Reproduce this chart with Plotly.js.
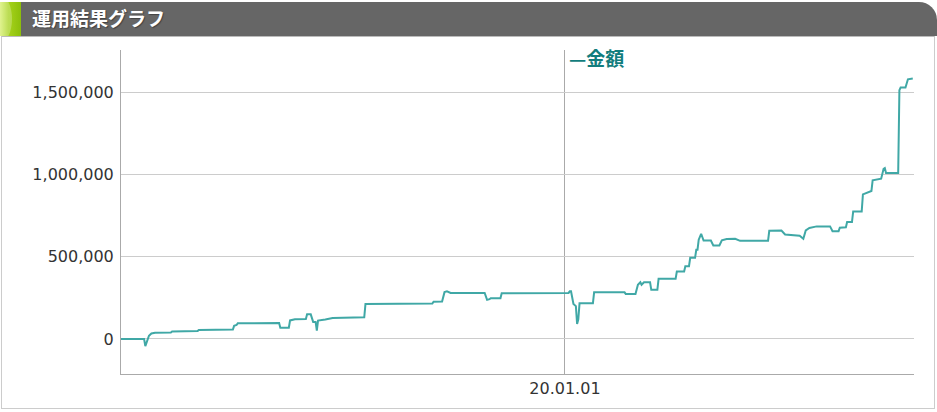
<!DOCTYPE html>
<html>
<head>
<meta charset="utf-8">
<script src="https://cdn.plot.ly/plotly-3.0.1.min.js"></script>
<style>
  html, body { margin: 0; padding: 0; background: #ffffff; width: 937px; height: 412px; overflow: hidden; }
  #header { position: absolute; left: 0; top: 2px; width: 937px; height: 34px; background: #666666; border-top-right-radius: 18px; overflow: hidden; }
  #accent { position: absolute; left: 0; top: 0; width: 21px; height: 34px; background: linear-gradient(90deg, #d6ef6a 0%, #a6d21c 40%, #8cbf0a 100%); }
  #accent2 { position: absolute; left: -10px; top: -6px; width: 22px; height: 46px; border-radius: 50%; background: rgba(255,255,255,0.25); }
  #title { position: absolute; left: 32px; top: 0; height: 34px; line-height: 32px; color: #ffffff; font-family: "Noto Sans CJK JP", sans-serif; font-weight: bold; font-size: 19px; text-shadow: 1px 1px 1px rgba(0,0,0,0.35); }
  #panel { position: absolute; left: 1px; top: 36px; width: 932px; height: 371px; border: 1px solid #cccccc; border-top: 1px solid #bbbbbb; }
  #chart { position: absolute; left: 0; top: 36px; width: 935px; height: 372px; }
</style>
</head>
<body>
<div id="header"><div id="accent"><div id="accent2"></div></div><div id="title">運用結果グラフ</div></div>
<div id="panel"></div>
<div id="chart"></div>
<script>
// Data
const dates = [
  "2019-01-01","2019-01-20","2019-01-21","2019-01-22","2019-01-24","2019-01-26","2019-01-29",
  "2019-02-11","2019-02-12","2019-03-05","2019-03-06","2019-04-03","2019-04-04","2019-04-06","2019-04-07",
  "2019-05-11","2019-05-12","2019-05-19","2019-05-20","2019-05-24",
  "2019-06-02","2019-06-03","2019-06-06","2019-06-08","2019-06-10","2019-06-11","2019-06-12","2019-06-18","2019-06-24",
  "2019-07-20","2019-07-21",
  "2019-09-14","2019-09-15","2019-09-22","2019-09-24","2019-09-26","2019-09-29",
  "2019-10-27","2019-10-29","2019-10-31","2019-11-01","2019-11-09","2019-11-10",
  "2020-01-04","2020-01-05","2020-01-06","2020-01-08","2020-01-10","2020-01-11","2020-01-12","2020-01-13",
  "2020-01-24","2020-01-25","2020-02-19","2020-02-20","2020-02-28",
  "2020-03-01","2020-03-03","2020-03-04","2020-03-06","2020-03-11","2020-03-12","2020-03-17","2020-03-18",
  "2020-04-01","2020-04-02","2020-04-08","2020-04-09","2020-04-12","2020-04-13","2020-04-17","2020-04-18",
  "2020-04-19","2020-04-20","2020-04-22","2020-04-24","2020-04-30",
  "2020-05-02","2020-05-07","2020-05-09","2020-05-13","2020-05-20","2020-05-24",
  "2020-06-16","2020-06-17","2020-06-27","2020-06-30",
  "2020-07-12","2020-07-15","2020-07-17","2020-07-20","2020-07-26",
  "2020-08-06","2020-08-08","2020-08-13","2020-08-14","2020-08-19","2020-08-20","2020-08-24","2020-08-25",
  "2020-09-01","2020-09-02","2020-09-07","2020-09-09","2020-09-10","2020-09-17","2020-09-19","2020-09-20","2020-09-21",
  "2020-10-01","2020-10-02","2020-10-03","2020-10-07","2020-10-09","2020-10-13"
];
const amounts = [
  0, 0, -43000, -20000, 20000, 34000, 38000,
  40000, 46000, 48000, 55000, 57000, 80000, 85000, 95000,
  97000, 69000, 69000, 113000, 120000,
  122000, 150000, 150000, 104000, 104000, 51000, 112000, 118000, 128000,
  132000, 213000,
  216000, 227000, 228000, 285000, 290000, 280000,
  280000, 238000, 242000, 248000, 248000, 278000,
  280000, 290000, 290000, 213000, 200000, 91000, 120000, 217000,
  217000, 284000, 284000, 274000, 274000,
  330000, 345000, 330000, 345000, 345000, 299000, 299000, 366000,
  366000, 410000, 410000, 443000, 443000, 494000, 494000, 543000,
  543000, 604000, 640000, 599000, 599000,
  569000, 569000, 600000, 608000, 610000, 597000,
  597000, 658000, 660000, 636000,
  628000, 610000, 660000, 675000, 685000,
  685000, 656000, 656000, 677000, 680000, 711000, 711000, 776000,
  776000, 880000, 893000, 900000, 965000, 975000, 1035000, 1040000, 1010000,
  1010000, 1514000, 1530000, 1530000, 1580000, 1585000
];
const seriesName = "金額";
const xTickVals = ["2020-01-01"];
const xTickText = ["20.01.01"];
const yTickVals = [0, 500000, 1000000, 1500000];
const yTickText = ["0", "500,000", "1,000,000", "1,500,000"];

const tickFont = { family: "DejaVu Sans, sans-serif", size: 16, color: "#333333" };

Plotly.newPlot("chart", [{
  type: "scatter",
  mode: "lines",
  x: dates,
  y: amounts,
  name: seriesName,
  line: { color: "#40a8a6", width: 2 },
  hoverinfo: "skip",
  showlegend: false
}], {
  width: 935,
  height: 372,
  margin: { l: 121, r: 21, t: 14, b: 34, pad: 0 },
  paper_bgcolor: "rgba(0,0,0,0)",
  plot_bgcolor: "rgba(0,0,0,0)",
  showlegend: false,
  xaxis: {
    type: "date",
    range: ["2019-01-01", "2020-10-14"],
    tickmode: "array",
    tickvals: xTickVals,
    ticktext: xTickText,
    showgrid: true,
    gridcolor: "#aaaaaa",
    gridwidth: 1,
    showline: true,
    linecolor: "#aaaaaa",
    linewidth: 1,
    ticks: "",
    tickfont: tickFont,
    zeroline: false,
    fixedrange: true
  },
  yaxis: {
    range: [-213000, 1758000],
    tickmode: "array",
    tickvals: yTickVals,
    ticktext: yTickText,
    showgrid: true,
    gridcolor: "#cccccc",
    gridwidth: 1,
    showline: true,
    linecolor: "#aaaaaa",
    linewidth: 1,
    ticks: "",
    ticklabelstandoff: 3,
    tickfont: tickFont,
    zeroline: false,
    fixedrange: true
  },
  annotations: [{
    xref: "paper", yref: "paper",
    x: 0.562, y: 0.978,
    xanchor: "left", yanchor: "middle",
    text: "<b>—" + seriesName + "</b>",
    showarrow: false,
    font: { family: "Noto Sans CJK JP, sans-serif", size: 19, color: "#127d7d" }
  }]
}, { displayModeBar: false, staticPlot: true });
</script>
</body>
</html>
